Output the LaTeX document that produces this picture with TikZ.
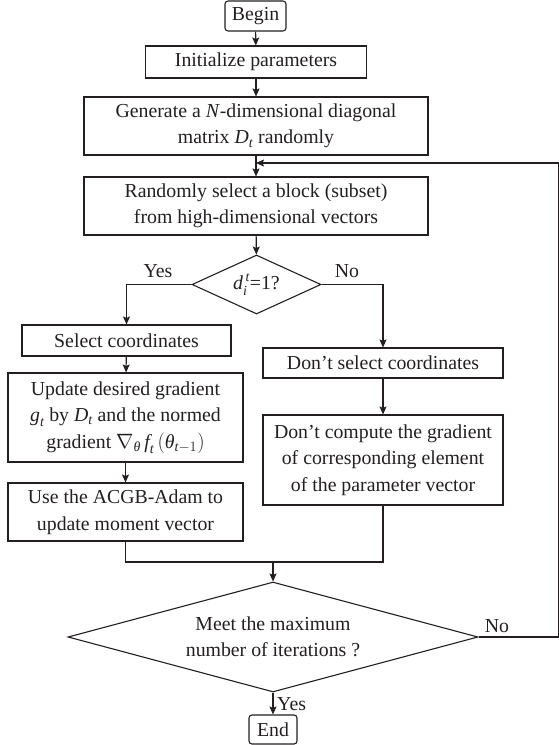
\documentclass[tikz,border=0pt]{standalone}
\usepackage{amsmath}
\usepackage{fontspec}
\setmainfont{Liberation Serif}
\usetikzlibrary{shapes.geometric,arrows.meta}
\definecolor{ink}{HTML}{231F20}
\newcommand{\iv}[1]{\textit{#1}}
\tikzset{
  box/.style={draw=ink, line width=1.1pt, rectangle, inner sep=0pt, align=center, text=ink,
              font=\fontsize{19.8}{26.5}\selectfont},
  term/.style={box, rounded corners=3pt},
  dec/.style={draw=ink, line width=1.1pt, diamond, inner sep=0pt, align=center, text=ink,
              font=\fontsize{19.8}{26.5}\selectfont},
  conn/.style={draw=ink, line width=1.1pt},
  arr/.style={conn, -{Stealth[length=8pt,width=7pt,inset=1.5pt]}},
  lbl/.style={text=ink, font=\fontsize{19.8}{22}\selectfont, inner sep=0pt}
}
\begin{document}
\begin{tikzpicture}[x=1pt,y=-1pt]
\useasboundingbox (0,0) rectangle (559,745);
\node[term, minimum width=61pt, minimum height=30pt] (begin) at (255.5,16) {Begin};
\node[box, minimum width=221pt, minimum height=32pt] (init) at (256,62) {Initialize parameters};
\node[box, minimum width=344pt, minimum height=58pt] (gen) at (256,126) {Generate a \iv{N}-dimensional diagonal\\matrix $\iv{D}_{\iv{t}}$ randomly};
\node[box, minimum width=344pt, minimum height=58pt] (rand) at (256,206) {Randomly select a block (subset)\\from high-dimensional vectors};
\node[dec, shape aspect=2.19, minimum width=129pt, minimum height=59pt] (dec1) at (256.5,284.5) {$\iv{d}_{\iv{i}}^{\,\iv{t}}$=1?};
\node[box, minimum width=209pt, minimum height=31pt] (sel) at (126.5,340.5) {Select coordinates};
\node[box, minimum width=240pt, minimum height=30pt] (dsel) at (383,363) {Don’t select coordinates};
\node[box, minimum width=235pt, minimum height=89pt] (upd) at (125.5,417.5) {Update desired gradient\\$\iv{g}_{\iv{t}}$ by $\iv{D}_{\iv{t}}$ and the normed\\gradient $\nabla_{\iv{θ}}\,\iv{f}_{\iv{t}}\,(\iv{θ}_{\iv{t}-1})$};
\node[box, minimum width=235pt, minimum height=58pt] (use) at (125.5,512) {Use the ACGB-Adam to\\update moment vector};
\node[box, minimum width=240pt, minimum height=90pt] (dcomp) at (383,460) {Don’t compute the gradient\\of corresponding element\\of the parameter vector};
\node[dec, shape aspect=3.727, minimum width=410pt, minimum height=110pt] (dec2) at (273,637) {Meet the maximum\\number of iterations ?};
\node[term, minimum width=48pt, minimum height=29pt] (end) at (273,729.5) {End};

\coordinate (rc) at (558.5,163);
\coordinate (mg) at (273,562);

\draw[arr] (begin) -- (init);
\draw[arr] (init) -- (gen);
\draw[arr] (gen) -- (rand);
\draw[arr] (dec2.east) -| (rc) -- (rc -| gen.south);
\draw[arr] (rand) -- (dec1);
\draw[arr] (dec1.west) -| (sel.north);
\draw[arr] (dec1.east) -| (dsel.north);
\draw[arr] (sel) -- (upd);
\draw[arr] (upd) -- (use);
\draw[arr] (dsel) -- (dcomp);
\draw[conn] (use.south) |- (mg) -| (dcomp.south);
\draw[arr] (mg) -- (dec2.north);
\draw[arr] (dec2.south) -- (end.north);

\node[lbl] (yes1) at (158,271) {Yes};
\node[lbl] (no1) at (347,271) {No};
\node[lbl] (no2) at (497,626) {No};
\node[lbl, anchor=west] (yes2) at (277,704) {Yes};
\end{tikzpicture}
\end{document}
